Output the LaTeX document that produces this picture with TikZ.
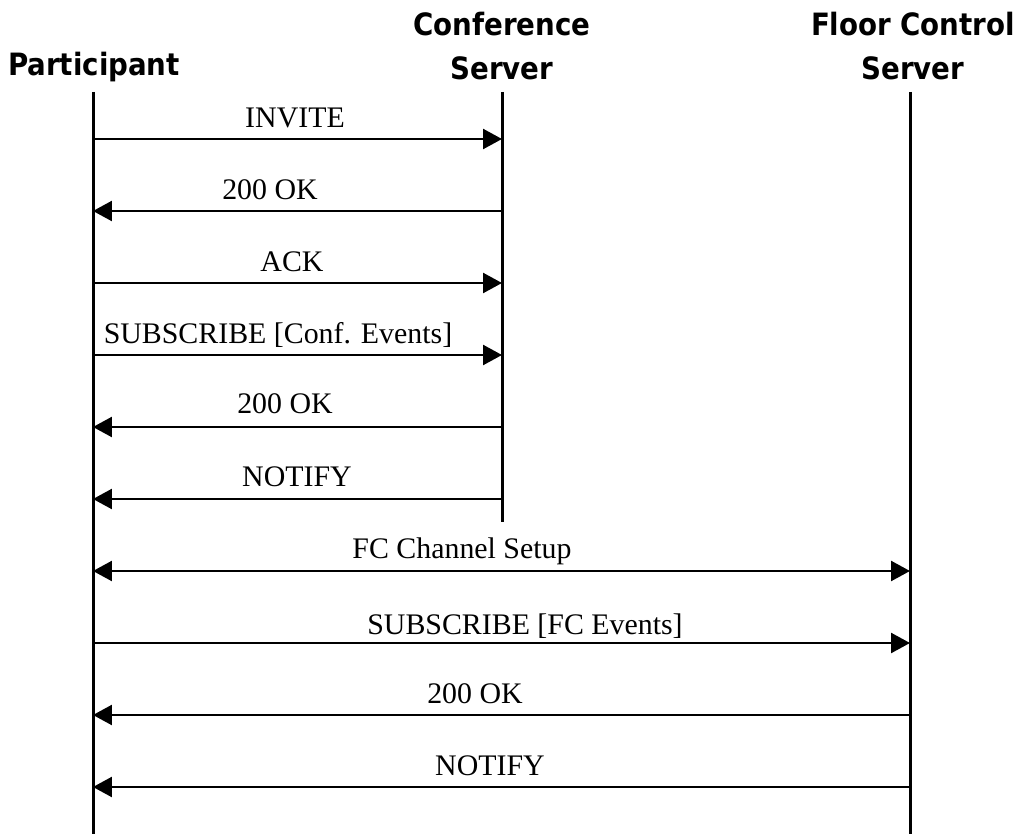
\documentclass[tikz,border=0pt]{standalone}
\usepackage{fontspec}
\setmainfont{Liberation Serif}
\newfontfamily\headfont{DejaVu Sans Condensed}
\usetikzlibrary{arrows.meta}
\tikzset{
  head/.style={font=\headfont\bfseries\fontsize{17.5}{25.5}\selectfont, align=center, inner sep=0pt, anchor=base},
  life/.style={line width=0.06cm},
  msg/.style={line width=0.05cm, -{Triangle[length=0.38cm,width=0.4cm]}},
  both/.style={line width=0.05cm, {Triangle[length=0.38cm,width=0.4cm]}-{Triangle[length=0.38cm,width=0.4cm]}},
  lbl/.style={font=\fontsize{17}{20}\selectfont, inner sep=0pt, anchor=base}
}
\begin{document}
\begin{tikzpicture}[x=0.02cm, y=-0.02cm]
        \useasboundingbox (0,0) rectangle (1021,834);

        % Lifeline heads
        \node[head] (part) at (94,76) {Participant};
        \node[head] (conf) at (502,80) {Conference\\Server};
        \node[head] (floor) at (913,80) {Floor Control\\Server};

        % Lifelines
        \coordinate (pTop) at (93,92);
        \coordinate (pBot) at (93,834);
        \coordinate (cTop) at (502,92);
        \coordinate (cBot) at (502,522);
        \coordinate (fTop) at (910,92);
        \coordinate (fBot) at (910,834);
        \draw[life] (pTop) -- (pBot);
        \draw[life] (cTop) -- (cBot);
        \draw[life] (fTop) -- (fBot);

        % Messages with the conference server
        \coordinate (p1) at (93,139);  \coordinate (c1) at (502,139);
        \coordinate (p2) at (93,211);  \coordinate (c2) at (502,211);
        \coordinate (p3) at (93,283);  \coordinate (c3) at (502,283);
        \coordinate (p4) at (93,355);  \coordinate (c4) at (502,355);
        \coordinate (p5) at (93,427);  \coordinate (c5) at (502,427);
        \coordinate (p6) at (93,499);  \coordinate (c6) at (502,499);
        \draw[msg] (p1) -- (c1);
        \draw[msg] (c2) -- (p2);
        \draw[msg] (p3) -- (c3);
        \draw[msg] (p4) -- (c4);
        \draw[msg] (c5) -- (p5);
        \draw[msg] (c6) -- (p6);
        \node[lbl] (invite) at (295,128) {INVITE};
        \node[lbl] (ok1) at (270,200) {200 OK};
        \node[lbl] (ack) at (292,272) {ACK};
        \node[lbl] (subconf) at (278,344) {SUBSCRIBE [Conf. Events]};
        \node[lbl] (ok2) at (285,414) {200 OK};
        \node[lbl] (notconf) at (297,486) {NOTIFY};

        % Messages with the floor control server
        \coordinate (p7) at (93,571);  \coordinate (f7) at (910,571);
        \coordinate (p8) at (93,643);  \coordinate (f8) at (910,643);
        \coordinate (p9) at (93,715);  \coordinate (f9) at (910,715);
        \coordinate (p10) at (93,787); \coordinate (f10) at (910,787);
        \draw[both] (p7) -- (f7);
        \draw[msg] (p8) -- (f8);
        \draw[msg] (f9) -- (p9);
        \draw[msg] (f10) -- (p10);
        \node[lbl] (fcsetup) at (462,558) {FC Channel Setup};
        \node[lbl] (subfc) at (525,634) {SUBSCRIBE [FC Events]};
        \node[lbl] (ok3) at (475,703) {200 OK};
        \node[lbl] (notfc) at (490,775) {NOTIFY};
    \end{tikzpicture}
\end{document}
